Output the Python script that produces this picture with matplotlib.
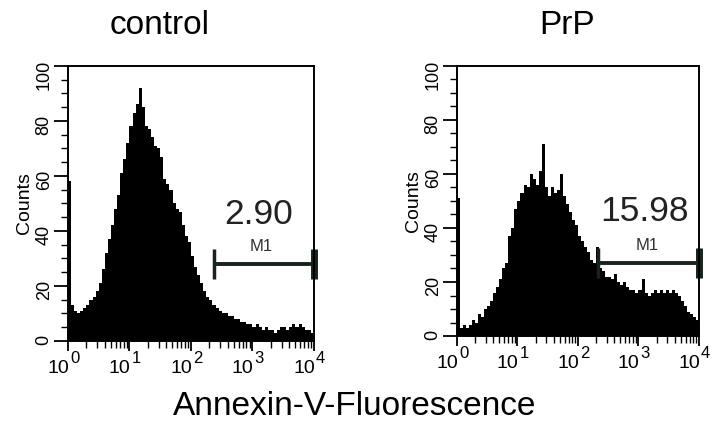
import numpy as np
import matplotlib
matplotlib.use('Agg')
import matplotlib.pyplot as plt
from matplotlib.ticker import MultipleLocator, LogLocator, NullFormatter

plt.rcParams.update({
    'font.family': ['Liberation Sans', 'DejaVu Sans'],
})

# histogram channels: 80 bins spread over 4 log decades (10^0 .. 10^4)
n_decades = 4
n_bins = 80

control_counts = [
    58, 13, 11, 10, 11, 12, 13, 15, 16, 18,
    21, 26, 32, 37, 42, 48, 53, 61, 66, 72,
    78, 83, 86, 92, 85, 78, 77, 74, 71, 70,
    67, 59, 57, 55, 50, 48, 47, 42, 38, 36,
    31, 27, 24, 21, 18, 16, 15, 13, 12, 11,
    10, 10, 9, 9, 8, 8, 7, 7, 6, 6,
    5, 6, 5, 4, 5, 4, 4, 3, 4, 5,
    5, 4, 5, 6, 5, 6, 5, 4, 4, 3,
]

prp_counts = [
    51, 3, 4, 3, 4, 6, 5, 8, 7, 10,
    11, 13, 16, 18, 21, 25, 27, 37, 40, 47,
    50, 53, 56, 55, 60, 58, 56, 61, 71, 55,
    52, 55, 53, 54, 60, 52, 49, 46, 43, 41,
    37, 35, 33, 31, 28, 27, 33, 25, 24, 22,
    22, 21, 23, 20, 19, 20, 18, 17, 17, 16,
    17, 21, 16, 15, 16, 17, 16, 17, 16, 17,
    16, 17, 16, 15, 13, 11, 9, 8, 7, 6,
]

titles = ['control', 'PrP']
title_x = [0.223, 0.794]
m1_values = ['2.90', '15.98']
m1_start = [235, 215]
m1_level = [28, 27]
decade_exp = [0, 1, 2, 3, 4]

edges = 10 ** np.linspace(0, n_decades, n_bins + 1)

fig = plt.figure(figsize=(7.14, 4.24), dpi=100)
rects = [[0.0952, 0.1958, 0.3445, 0.6486], [0.640, 0.2075, 0.339, 0.637]]
bar_col = '#17241c'

for i, counts in enumerate([control_counts, prp_counts]):
    ax = fig.add_axes(rects[i])
    ax.stairs(counts, edges, fill=True, color='black', baseline=0)
    ax.set_xscale('log')
    ax.set_xlim(1, 1e4)
    ax.set_ylim(0, 100)

    ax.xaxis.set_major_locator(LogLocator(base=10, numticks=10))
    ax.xaxis.set_minor_locator(LogLocator(base=10, subs=np.arange(2, 10), numticks=20))
    ax.xaxis.set_minor_formatter(NullFormatter())
    ax.yaxis.set_major_locator(MultipleLocator(20))
    ax.yaxis.set_minor_locator(MultipleLocator(5))

    ax.tick_params(axis='x', which='major', direction='out', length=7, width=1.3,
                   labelbottom=False)
    ax.tick_params(axis='x', which='minor', direction='out', length=5, width=1.0)
    ax.tick_params(axis='y', which='major', direction='out', length=10, width=1.3,
                   labelsize=13, labelrotation=90, pad=1)
    ax.tick_params(axis='y', which='minor', direction='out', length=5, width=1.0)
    for s in ax.spines.values():
        s.set_linewidth(1.4)

    # decade labels "10" with a large exponent
    for e in decade_exp:
        ax.annotate('10', xy=(10 ** e, 0), xycoords=('data', 'axes fraction'),
                    xytext=(1, -19), textcoords='offset pixels',
                    ha='right', va='top', fontsize=14, annotation_clip=False)
        ax.annotate(str(e), xy=(10 ** e, 0), xycoords=('data', 'axes fraction'),
                    xytext=(2, -10), textcoords='offset pixels',
                    ha='left', va='top', fontsize=12, annotation_clip=False)

    ax.set_ylabel('Counts', fontsize=14, labelpad=2)
    fig.text(title_x[i], 0.939, titles[i], fontsize=24, ha='center', va='center')

    # M1 marker
    ax.hlines(m1_level[i], m1_start[i], 1e4, color=bar_col, lw=2.8)
    ax.vlines(m1_start[i], m1_level[i] - 5.5, m1_level[i] + 5.5, color=bar_col, lw=2.5)
    ax.vlines(1e4, m1_level[i] - 5.5, m1_level[i] + 5.5, color=bar_col, lw=5, clip_on=False)
    ax.text(10 ** 3.15, m1_level[i] + 6.5, 'M1', fontsize=12, color='#333333',
            ha='center', va='center')
    ax.text(10 ** 3.1, 46, m1_values[i], fontsize=25.5, color='#222222',
            ha='center', va='center')

fig.text(0.496, 0.004, 'Annexin-V-Fluorescence', fontsize=24, ha='center', va='bottom')

fig.savefig('out.png', dpi=100, facecolor='white')
